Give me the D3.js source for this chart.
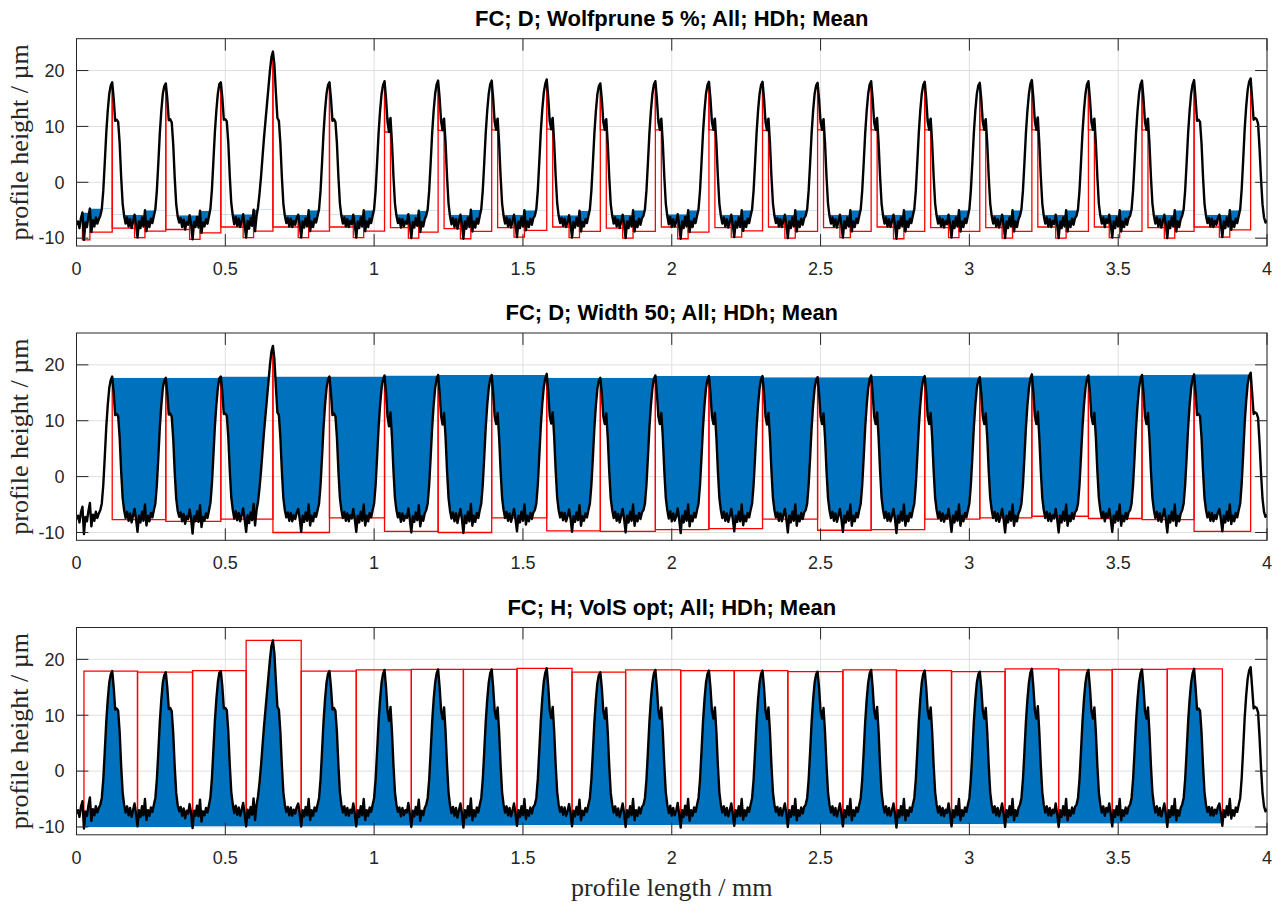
<!DOCTYPE html>
<html><head><meta charset="utf-8">
<script src="https://cdn.jsdelivr.net/npm/d3@7"></script>
<style>body{margin:0;background:#fff}svg{display:block}</style>
</head><body>
<svg id="chart" width="1282" height="906"></svg>
<script>
// ---------------- data ----------------
const titles = ["FC; D; Wolfprune 5 %; All; HDh; Mean", "FC; D; Width 50; All; HDh; Mean", "FC; H; VolS opt; All; HDh; Mean"];
const xLabel = "profile length / mm";
const yLabel = "profile height / µm";
const xTicks = [0, 0.5, 1, 1.5, 2, 2.5, 3, 3.5, 4];
const xTickLabels = ["0", "0.5", "1", "1.5", "2", "2.5", "3", "3.5", "4"];
const yTicks = [-10, 0, 10, 20];
const yTickLabels = ["-10", "0", "10", "20"];
const xDomain = [0, 4];
const yDomain = [-11.4, 25.7];

// profile heights (µm), sampled every 0.005 mm from 0 to 4 mm
const profileDx = 0.005;
const profileY = [
  -7.6,-7.0,-8.2,-6.4,-5.4,-10.3,-7.2,-8.0,-6.2,-4.7,-8.9,-6.8,-7.9,-6.3,-7.4,-6.6,-6.0,-4.8,-1.5,3.5,8.8,12.8,15.8,17.3,
  17.9,15.0,11.0,11.2,10.8,7.0,1.0,-3.8,-6.0,-7.4,-6.3,-7.9,-6.6,-8.2,-7.0,-5.8,-7.6,-9.9,-7.0,-8.2,-6.3,-7.9,-5.0,-8.75,-7.0,-8.0,-6.5,-7.3,-6.0,-4.8,-1.5,3.5,8.8,12.8,15.8,17.2,
  17.7,15.0,11.1,11.3,10.7,6.8,0.8,-3.9,-6.1,-7.2,-6.4,-8.0,-6.7,-8.45,-7.1,-7.6,-5.9,-7.5,-10.2,-7.1,-8.0,-6.2,-8.1,-5.1,-9.05,-7.2,-7.9,-6.6,-7.4,-6.1,-4.7,-1.3,3.8,9.0,12.9,15.9,17.6,
  17.9,15.1,11.2,11.3,10.9,7.1,1.1,-3.7,-5.9,-7.5,-6.2,-7.8,-6.5,-8.0,-6.9,-5.7,-7.7,-9.9,-6.9,-8.3,-6.4,-7.8,-4.9,-8.75,-6.0,-4.5,-2.0,1.0,4.5,8.0,11.0,14.0,17.0,20.0,22.4,
  23.4,21.0,16.0,11.5,11.0,7.0,1.0,-3.8,-6.0,-7.3,-6.4,-7.9,-6.5,-8.0,-6.9,-7.6,-6.4,-5.8,-7.6,-9.9,-7.0,-8.1,-6.4,-7.9,-5.0,-8.75,-7.0,-8.0,-6.5,-7.2,-6.0,-4.8,-1.5,3.5,8.8,12.8,15.8,17.4,
  17.9,15.0,11.0,11.3,10.8,7.0,1.0,-3.8,-6.0,-7.4,-6.3,-7.9,-6.6,-8.0,-6.9,-7.5,-5.8,-7.6,-9.9,-7.0,-8.2,-6.3,-7.9,-5.0,-8.75,-7.0,-8.0,-6.5,-7.3,-6.0,-4.8,-1.5,3.5,8.8,12.8,15.8,17.4,
  18.1,15.0,10.8,9.0,11.5,7.0,1.0,-3.8,-6.0,-7.3,-6.5,-8.1,-6.6,-7.9,-7.0,-7.4,-5.7,-7.7,-10.0,-7.1,-8.1,-6.4,-7.8,-5.1,-8.9,-7.1,-7.9,-6.6,-6.0,-4.8,-1.5,3.5,8.8,12.8,15.8,17.5,
  18.2,15.1,10.9,9.3,11.4,7.1,1.0,-3.8,-6.1,-7.5,-6.4,-8.0,-6.6,-8.3,-7.0,-5.8,-7.6,-10.1,-7.0,-8.3,-6.3,-8.0,-4.9,-8.8,-7.0,-8.1,-6.5,-7.4,-6.0,-4.8,-1.5,3.5,8.8,12.8,15.8,17.5,
  18.2,15.0,10.8,9.4,11.4,7.0,1.0,-3.8,-6.0,-7.4,-6.3,-7.9,-6.6,-8.1,-7.0,-5.8,-7.6,-9.8,-7.0,-8.2,-6.3,-7.9,-5.0,-8.6,-7.0,-8.0,-6.5,-7.6,-6.4,-6.0,-4.8,-1.4,3.7,9.0,13.0,16.0,17.6,
  18.4,15.2,10.9,9.5,11.5,7.1,1.1,-3.7,-6.0,-7.3,-6.4,-7.8,-6.5,-8.0,-7.1,-5.9,-7.5,-9.9,-7.1,-8.1,-6.4,-7.8,-5.1,-8.8,-7.1,-7.9,-6.6,-7.3,-6.0,-4.8,-1.5,3.4,8.7,12.7,15.7,17.2,
  17.7,14.9,10.8,9.4,11.3,6.9,0.9,-3.9,-6.0,-7.4,-6.3,-7.9,-6.7,-8.2,-7.0,-5.8,-7.6,-10.0,-7.0,-8.2,-6.3,-7.9,-5.0,-8.8,-7.0,-8.0,-6.5,-7.6,-6.4,-6.0,-4.8,-1.5,3.5,8.8,12.8,15.8,17.5,
  18.1,15.0,10.8,9.4,11.4,7.0,1.0,-3.8,-6.0,-7.5,-6.2,-8.0,-6.6,-7.9,-7.1,-5.7,-7.7,-10.1,-7.0,-8.2,-6.2,-7.9,-5.0,-8.9,-7.0,-8.0,-6.5,-7.3,-6.0,-4.8,-1.5,3.5,8.8,12.8,15.8,17.4,
  18.0,15.0,10.8,9.4,11.4,7.0,1.0,-3.8,-6.0,-7.4,-6.3,-7.9,-6.6,-8.1,-7.0,-5.8,-7.6,-9.8,-7.0,-8.1,-6.3,-8.0,-5.0,-8.7,-7.0,-8.0,-6.5,-7.3,-6.0,-4.8,-1.5,3.5,8.8,12.8,15.8,17.4,
  18.0,15.0,10.8,9.3,11.4,7.0,1.0,-3.8,-6.0,-7.3,-6.4,-7.9,-6.6,-8.0,-6.9,-5.8,-7.6,-10.0,-7.0,-8.2,-6.3,-7.9,-5.0,-8.8,-7.0,-8.0,-6.5,-7.6,-6.4,-6.0,-4.8,-1.5,3.5,8.8,12.8,15.8,17.3,
  17.8,14.9,10.8,9.4,11.3,7.0,1.0,-3.8,-6.0,-7.4,-6.3,-7.9,-6.6,-8.1,-7.0,-5.8,-7.6,-9.9,-7.0,-8.2,-6.3,-7.9,-5.0,-8.8,-7.0,-8.0,-6.5,-7.3,-6.0,-4.8,-1.5,3.5,8.8,12.8,15.8,17.5,
  18.1,15.0,10.8,9.4,11.5,7.0,1.0,-3.8,-6.0,-7.4,-6.3,-7.9,-6.6,-8.0,-7.0,-5.8,-7.6,-10.1,-7.0,-8.2,-6.3,-7.9,-5.0,-8.8,-7.0,-8.0,-6.5,-7.3,-6.0,-4.8,-1.5,3.5,8.8,12.8,15.8,17.4,
  18.0,15.0,10.8,9.4,11.4,7.0,1.0,-3.8,-6.0,-7.4,-6.3,-7.9,-6.6,-8.1,-6.9,-7.5,-5.8,-7.6,-9.9,-7.0,-8.2,-6.3,-7.9,-5.0,-8.8,-7.0,-8.0,-6.5,-7.3,-6.0,-4.8,-1.5,3.5,8.8,12.8,15.8,17.3,
  17.8,14.9,10.8,9.4,11.3,7.0,1.0,-3.8,-6.0,-7.4,-6.3,-7.9,-6.6,-8.1,-7.0,-5.8,-7.6,-10.0,-7.0,-8.2,-6.3,-7.9,-5.0,-8.8,-7.0,-8.0,-6.6,-6.0,-4.8,-1.5,3.5,8.8,12.8,15.8,17.6,
  18.3,15.1,10.9,9.4,11.6,7.0,1.0,-3.8,-6.0,-7.4,-6.3,-7.9,-6.6,-8.0,-6.9,-7.5,-5.8,-7.6,-10.0,-7.0,-8.2,-6.3,-7.9,-5.0,-8.8,-7.0,-8.0,-6.5,-7.6,-6.4,-6.0,-4.8,-1.5,3.5,8.8,12.8,15.8,17.5,
  18.1,15.0,10.8,9.4,11.4,7.0,1.0,-3.8,-6.0,-7.4,-6.3,-8.0,-6.6,-7.3,-5.8,-7.6,-9.9,-7.0,-8.2,-6.3,-7.9,-5.0,-8.8,-7.0,-8.0,-6.5,-7.6,-6.4,-6.0,-4.8,-1.5,3.5,8.8,12.8,15.8,17.5,
  18.2,15.0,10.8,9.4,11.4,7.0,1.0,-3.8,-6.0,-7.4,-6.3,-7.9,-6.6,-8.1,-7.0,-5.8,-7.6,-10.0,-7.0,-8.2,-6.3,-7.9,-5.0,-8.8,-7.0,-8.0,-6.6,-6.0,-4.8,-1.5,3.5,8.8,12.8,15.8,17.5,
  18.3,15.0,11.0,11.2,10.8,7.0,1.0,-3.8,-6.0,-7.3,-6.4,-7.9,-6.5,-8.0,-6.9,-7.6,-6.4,-5.8,-7.6,-9.8,-7.0,-8.2,-6.3,-7.9,-5.0,-8.5,-7.0,-8.0,-6.5,-7.3,-6.0,-4.8,-1.2,4.0,9.5,13.5,16.5,18.0,
  18.6,15.0,11.2,11.5,11.3,10.5,6.0,0.5,-4.0,-6.3,-7.2,-6.8
];

// panel 1: Wolf-pruned motif cut positions (mm)
const wolfCuts = [0.020, 0.045,
  0.120, 0.195, 0.230, 0.300, 0.380, 0.415, 0.485, 0.560, 0.595, 0.660, 0.745, 0.780,
  0.850, 0.930, 0.965, 1.035, 1.055, 1.115, 1.150, 1.215, 1.235, 1.290, 1.325,
  1.395, 1.415, 1.470, 1.505, 1.580, 1.600, 1.655, 1.690, 1.760, 1.780, 1.835, 1.870,
  1.945, 1.965, 2.020, 2.055, 2.125, 2.145, 2.200, 2.235, 2.305, 2.325, 2.380, 2.415,
  2.490, 2.510, 2.565, 2.600, 2.670, 2.690, 2.745, 2.780, 2.850, 2.870, 2.930, 2.965,
  3.035, 3.055, 3.110, 3.145, 3.210, 3.230, 3.290, 3.325, 3.400, 3.420, 3.470, 3.505,
  3.580, 3.600, 3.655, 3.690, 3.755, 3.840, 3.875, 3.945];

// panel 2: Width 50 motif cuts (peaks, mm) and motif depth levels (µm)
const widthCuts = [0.120, 0.300, 0.485, 0.660, 0.850, 1.035, 1.215, 1.395, 1.580, 1.760, 1.945,
  2.125, 2.305, 2.490, 2.670, 2.850, 3.035, 3.210, 3.400, 3.580, 3.755, 3.945];
const widthBottoms = [-7.7, -8.0, -7.6, -10.0, -7.4, -9.8, -10.0, -7.4, -9.7, -9.8, -9.5,
  -9.3, -7.6, -9.6, -9.5, -7.6, -7.4, -7.1, -7.5, -7.7, -9.8];

// panel 3: VolS opt hill motif cuts (valleys, mm), motif tops and bases (µm)
const volCuts = [0.025, 0.205, 0.390, 0.570, 0.755, 0.940, 1.125, 1.300, 1.480, 1.665, 1.845,
  2.030, 2.210, 2.390, 2.575, 2.755, 2.940, 3.120, 3.300, 3.480, 3.665, 3.850];
const volTops = [17.9, 17.7, 18.0, 23.4, 17.9, 18.1, 18.2, 18.2, 18.4, 17.7, 18.1,
  18.0, 18.0, 17.8, 18.1, 18.0, 17.8, 18.3, 18.1, 18.2, 18.3];
const volBases = [-10.0, -10.0, -9.9, -9.9, -9.9, -9.8, -9.8, -9.8, -9.7, -9.7, -9.7,
  -9.6, -9.6, -9.6, -9.6, -9.5, -9.5, -9.4, -9.4, -9.4, -9.4];

// ---------------- drawing ----------------
const svg = d3.select('#chart');
const defs = svg.append('defs');
const FONT_SANS = "'Liberation Sans', Arial, Helvetica, sans-serif";
const FONT_SERIF = "'Liberation Serif', 'Times New Roman', Times, serif";
const AX = '#262626';
const BLUE = '#0072BD';
const RED = '#ff0000';

const plotLeft = 76.5, plotRight = 1267;
const panelTops = [38.7, 333, 627.5];
const panelH = 207.3;
const tickLen = 11.9;

const x = d3.scaleLinear().domain(xDomain).range([plotLeft, plotRight]);
const pts = profileY.map((v, i) => [i * profileDx, v]);
const idx = v => Math.round(v / profileDx);
const yAt = v => profileY[idx(v)];

function buildMotifs(cuts) {
  const out = [];
  for (let i = 0; i < cuts.length - 1; i++) out.push({ x0: cuts[i], x1: cuts[i + 1], i });
  return out;
}

let clipCounter = 0;
function clipRect(x0, y0, x1, y1) {
  const id = 'c' + (clipCounter++);
  defs.append('clipPath').attr('id', id).append('rect')
    .attr('x', Math.min(x0, x1)).attr('y', Math.min(y0, y1))
    .attr('width', Math.abs(x1 - x0)).attr('height', Math.abs(y1 - y0));
  return 'url(#' + id + ')';
}

panelTops.forEach((top, pi) => {
  const bottom = top + panelH;
  const y = d3.scaleLinear().domain(yDomain).range([bottom, top]);
  const g = svg.append('g');
  const plotClip = clipRect(plotLeft, top, plotRight, bottom);

  // grid
  const grid = g.append('g').attr('stroke', '#dfdfdf').attr('stroke-width', 1);
  xTicks.forEach(t => grid.append('line').attr('x1', x(t)).attr('x2', x(t)).attr('y1', top).attr('y2', bottom));
  yTicks.forEach(t => grid.append('line').attr('x1', plotLeft).attr('x2', plotRight).attr('y1', y(t)).attr('y2', y(t)));

  const fills = g.append('g').attr('clip-path', plotClip);
  const reds = g.append('g').attr('clip-path', plotClip).attr('fill', 'none').attr('stroke', RED).attr('stroke-width', 1.3);

  const segArea = (x0, x1, level) => {
    const seg = pts.slice(idx(x0), idx(x1) + 1);
    return d3.area().x(d => x(d[0])).y0(y(level)).y1(d => y(d[1]))(seg);
  };

  if (pi === 0 || pi === 1) {
    const cuts = pi === 0 ? wolfCuts : widthCuts;
    buildMotifs(cuts).forEach(m => {
      const y0v = yAt(m.x0), y1v = yAt(m.x1);
      const level = Math.min(y0v, y1v);
      const bot = pi === 0 ? d3.min(profileY.slice(idx(m.x0), idx(m.x1) + 1)) : widthBottoms[m.i];
      fills.append('path').attr('d', segArea(m.x0, m.x1, level)).attr('fill', BLUE)
        .attr('clip-path', clipRect(x(m.x0), y(level), x(m.x1), bottom + 5));
      reds.append('path').attr('d', d3.line()([[x(m.x0), y(y0v)], [x(m.x0), y(bot)], [x(m.x1), y(bot)], [x(m.x1), y(y1v)]]));
    });
  } else {
    buildMotifs(volCuts).forEach(m => {
      const base = volBases[m.i], topV = volTops[m.i];
      fills.append('path').attr('d', segArea(m.x0, m.x1, base)).attr('fill', BLUE)
        .attr('clip-path', clipRect(x(m.x0), top - 5, x(m.x1), y(base)));
      reds.append('path').attr('d', d3.line()([[x(m.x0), y(yAt(m.x0))], [x(m.x0), y(topV)], [x(m.x1), y(topV)], [x(m.x1), y(yAt(m.x1))]]));
    });
  }

  // profile line
  g.append('path').attr('clip-path', plotClip)
    .attr('d', d3.line().x(d => x(d[0])).y(d => y(d[1]))(pts))
    .attr('fill', 'none').attr('stroke', '#000').attr('stroke-width', 2.4).attr('stroke-linejoin', 'round');

  // box + ticks
  const axg = g.append('g').attr('stroke', AX).attr('stroke-width', 1).attr('fill', 'none');
  axg.append('rect').attr('x', plotLeft).attr('y', top).attr('width', plotRight - plotLeft).attr('height', panelH);
  xTicks.forEach(t => {
    axg.append('line').attr('x1', x(t)).attr('x2', x(t)).attr('y1', bottom).attr('y2', bottom - tickLen);
    axg.append('line').attr('x1', x(t)).attr('x2', x(t)).attr('y1', top).attr('y2', top + tickLen);
  });
  yTicks.forEach(t => {
    axg.append('line').attr('x1', plotLeft).attr('x2', plotLeft + tickLen).attr('y1', y(t)).attr('y2', y(t));
    axg.append('line').attr('x1', plotRight).attr('x2', plotRight - tickLen).attr('y1', y(t)).attr('y2', y(t));
  });

  // tick labels
  const tl = g.append('g').attr('fill', AX).attr('font-family', FONT_SANS).attr('font-size', 18);
  xTicks.forEach((t, i) => tl.append('text').attr('x', x(t)).attr('y', bottom + 29).attr('text-anchor', 'middle').text(xTickLabels[i]));
  yTicks.forEach((t, i) => tl.append('text').attr('x', plotLeft - 12).attr('y', y(t)).attr('dy', '0.35em').attr('text-anchor', 'end').text(yTickLabels[i]));

  // title
  g.append('text').attr('x', (plotLeft + plotRight) / 2).attr('y', top - 13)
    .attr('text-anchor', 'middle').attr('font-family', FONT_SANS).attr('font-weight', 'bold')
    .attr('font-size', 22).attr('fill', '#000').text(titles[pi]);

  // y label
  g.append('text').attr('transform', `translate(28,${top + panelH / 2}) rotate(-90)`)
    .attr('text-anchor', 'middle').attr('font-family', FONT_SERIF).attr('font-size', 26)
    .attr('fill', AX).text(yLabel);
});

svg.append('text').attr('x', (plotLeft + plotRight) / 2).attr('y', 896)
  .attr('text-anchor', 'middle').attr('font-family', FONT_SERIF).attr('font-size', 26)
  .attr('fill', AX).text(xLabel);
</script>
</body></html>
